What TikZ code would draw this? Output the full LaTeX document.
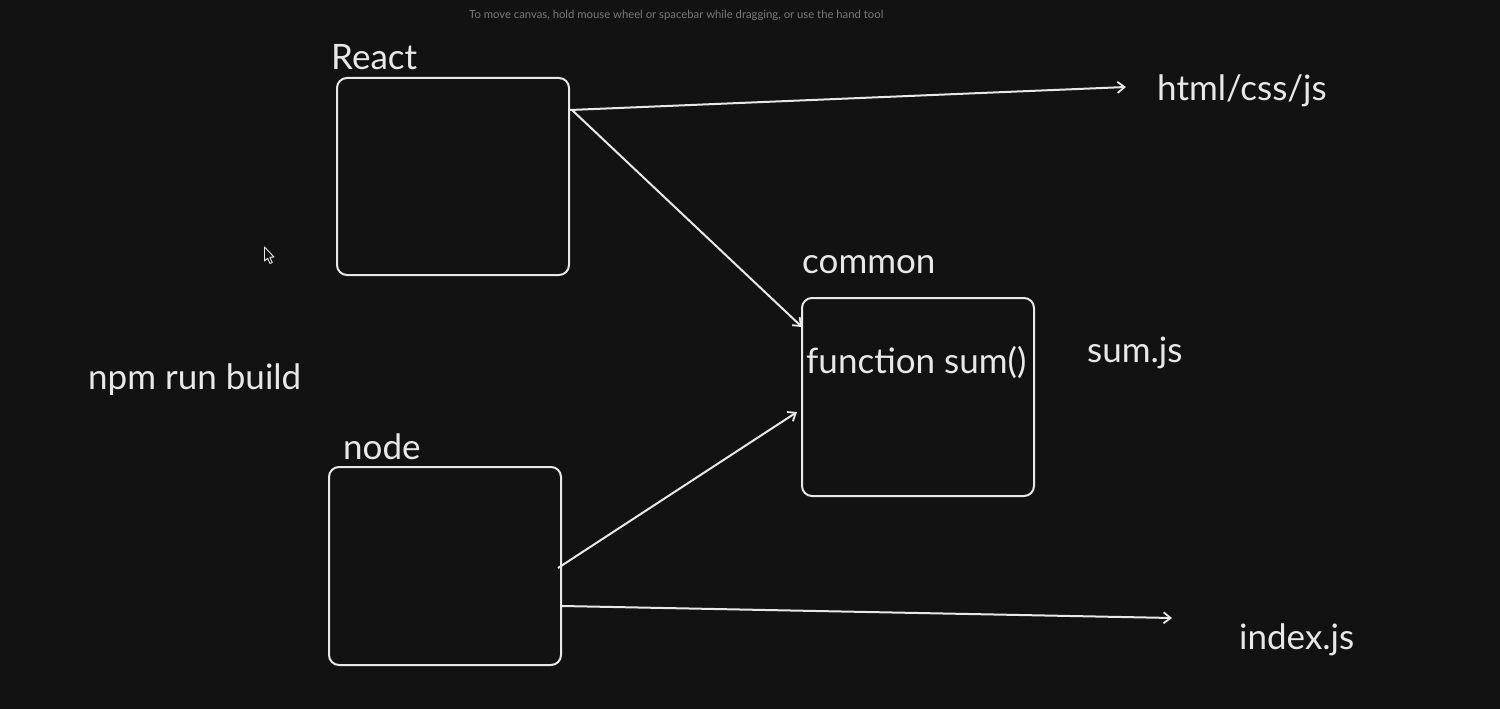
\documentclass[tikz,border=0pt]{standalone}
\usepackage{fontspec}
\setmainfont{Lato}
\usetikzlibrary{arrows.meta}
\definecolor{bg}{HTML}{121212}
\definecolor{ink}{HTML}{E8E8E8}
\definecolor{hint}{HTML}{7A7A7A}
\tikzset{
  box/.style={draw=ink, line width=2pt, rounded corners=10pt, fill=bg},
  lbl/.style={text=ink, font=\fontsize{35}{42}\selectfont, inner sep=0pt, anchor=base west},
  conn/.style={draw=ink, line width=2pt, -{Straight Barb[length=7pt,width=11pt,line width=1.8pt]}},
}
\begin{document}
\begin{tikzpicture}[x=1pt,y=-1pt]
\fill[bg] (0,0) rectangle (1500,709);
\useasboundingbox (0,0) rectangle (1500,709);

\node[text=hint, font=\fontsize{11.3}{13}\selectfont, inner sep=0pt, anchor=base west] (hinttext) at (469,19) {To move canvas, hold mouse wheel or spacebar while dragging, or use the hand tool};

% cursor
\draw[ink, fill=bg, line width=0.9pt, line join=round] (264.5,247) -- (264.5,261) -- (267.5,258.2) -- (270,263.5) -- (272.3,262.5) -- (269.8,257.3) -- (274,257) -- cycle;

\draw[box] (337,78) rectangle (569,275) node[pos=0.5] (react) {};
\draw[box] (329,467) rectangle (561,665) node[pos=0.5] (nodebox) {};
\draw[box] (802,298) rectangle (1034,496) node[pos=0.5] (common) {};

\node[lbl] (lreact) at (331,69.5) {React};
\node[lbl] (lcommon) at (802,273.5) {common};
\node[lbl] (lnode) at (343,459.5) {node};
\node[lbl] (lnpm) at (88,389) {npm run build};
\node[lbl] (lfunc) at (806,373.5) {function sum()};
\node[lbl] (lsum) at (1087,362.5) {sum.js};
\node[lbl] (lhtml) at (1157,100.5) {html/css/js};
\node[lbl] (lindex) at (1239,649.5) {index.js};

\coordinate (r1) at (570,110);
\coordinate (h1) at (1126,87);
\coordinate (r2) at (572,110);
\coordinate (c1) at (802,327);
\coordinate (n1) at (558,568);
\coordinate (c2) at (797,412);
\coordinate (n2) at (562,606);
\coordinate (i1) at (1172,618);

\draw[conn] (r1) -- (h1);
\draw[conn] (r2) -- (c1);
\draw[conn] (n1) -- (c2);
\draw[conn] (n2) -- (i1);
\end{tikzpicture}
\end{document}
